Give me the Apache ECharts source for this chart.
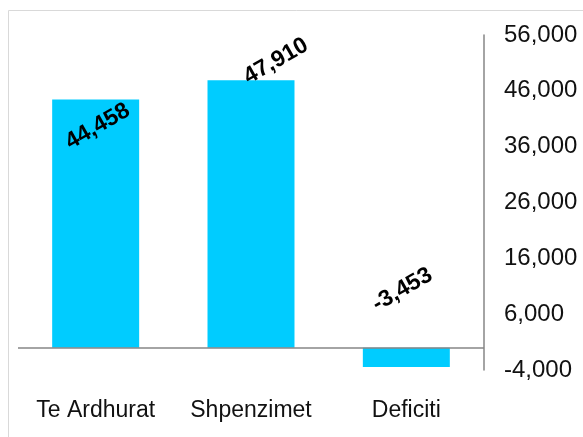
<!DOCTYPE html>
<html>
<head>
<meta charset="utf-8">
<script src="https://cdn.jsdelivr.net/npm/echarts@6/dist/echarts.min.js"></script>
<style>
  html, body { margin: 0; padding: 0; background: #fff; }
  #chart { width: 583px; height: 437px; }
</style>
</head>
<body>
<div id="chart"></div>
<script>
var categories = ['Te Ardhurat', 'Shpenzimet', 'Deficiti'];
var values = [44458, 47910, -3453];
// where each value label sits on screen, relative to the bar end (px)
var labelShift = [[2, 27], [25, -19], [-4, -58]];
var labelAngle = 30;

var myChart = echarts.init(document.getElementById('chart'));

// label offsets get rotated with the text, so undo the rotation here
var rad = labelAngle * Math.PI / 180;
var barData = values.map(function (v, i) {
    var dx = labelShift[i][0], dy = labelShift[i][1];
    return {
        value: v,
        label: {
            offset: [
                dx * Math.cos(rad) - dy * Math.sin(rad),
                dx * Math.sin(rad) + dy * Math.cos(rad)
            ]
        }
    };
});

var option = {
    animation: false,
    grid: {
        left: 18,
        right: 99,
        top: 35,
        bottom: 67,
        containLabel: false
    },
    graphic: [{
        type: 'rect',
        shape: { x: 8.5, y: 10.5, width: 620, height: 460 },
        style: { fill: 'none', stroke: '#d9d9d9', lineWidth: 1 },
        silent: true
    }],
    xAxis: {
        type: 'category',
        data: categories,
        axisLine: { show: false, onZero: false },
        axisTick: { show: false },
        axisLabel: {
            interval: 0,
            hideOverlap: false,
            margin: 29,
            color: '#111',
            fontSize: 23,
            fontFamily: 'Liberation Sans'
        }
    },
    yAxis: {
        type: 'value',
        position: 'right',
        min: -4000,
        max: 56000,
        interval: 10000,
        splitLine: { show: false },
        axisTick: { show: false },
        axisLine: {
            show: true,
            lineStyle: { color: '#868686', width: 1.5 }
        },
        axisLabel: {
            margin: 20,
            color: '#111',
            fontSize: 24,
            fontFamily: 'Liberation Sans',
            formatter: function (v) {
                return v.toLocaleString('en-US');
            }
        }
    },
    series: [{
        type: 'bar',
        data: barData,
        barWidth: '56%',
        itemStyle: { color: '#00ccff' },
        label: {
            show: true,
            position: 'top',
            distance: 0,
            rotate: labelAngle,
            align: 'center',
            verticalAlign: 'middle',
            color: '#000',
            fontWeight: 'bold',
            fontSize: 23,
            fontFamily: 'Liberation Sans',
            formatter: function (p) {
                return p.value.toLocaleString('en-US');
            }
        },
        markLine: {
            silent: true,
            symbol: 'none',
            label: { show: false },
            lineStyle: { color: '#868686', width: 1.5, type: 'solid' },
            data: [{ yAxis: 0 }]
        }
    }]
};

myChart.setOption(option);
</script>
</body>
</html>
